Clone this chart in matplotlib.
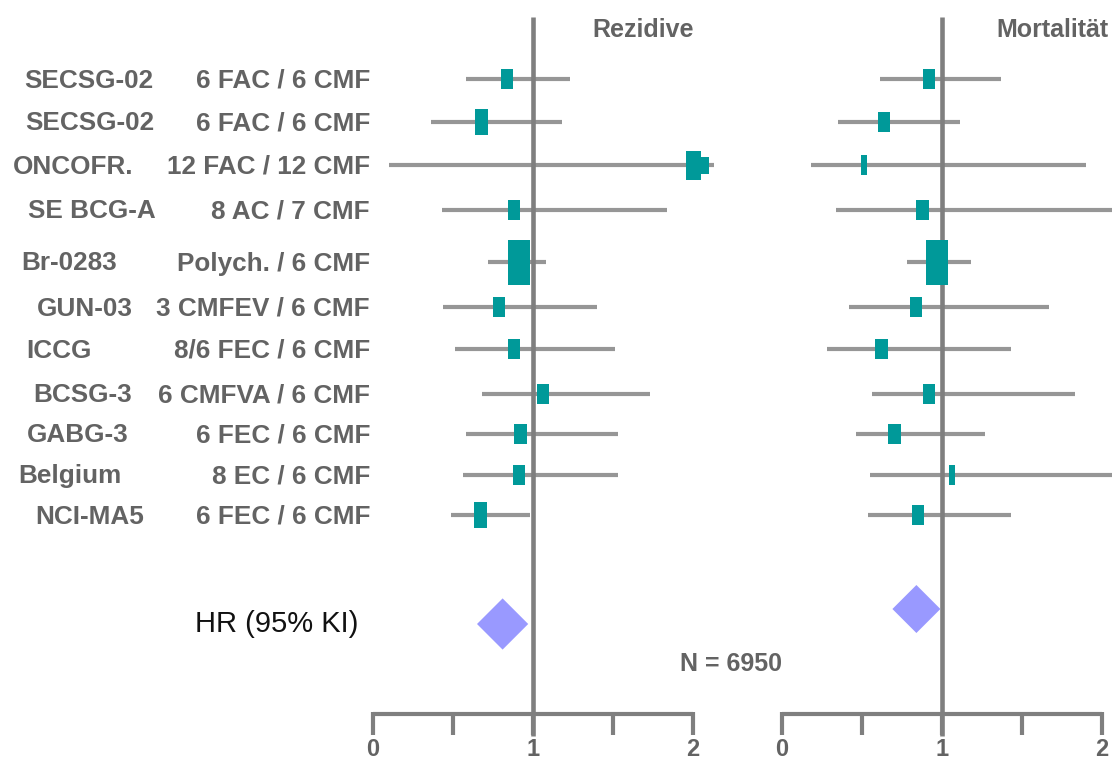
import matplotlib.pyplot as plt

plt.rcParams['font.family'] = ['Liberation Sans', 'DejaVu Sans']

# Studies and regimens
studies = ["SECSG-02", "SECSG-02", "ONCOFR.", "SE BCG-A", "Br-0283", "GUN-03",
           "ICCG", "BCSG-3", "GABG-3", "Belgium", "NCI-MA5"]
regimens = ["6 FAC / 6 CMF", "6 FAC / 6 CMF", "12 FAC / 12 CMF", "8 AC / 7 CMF",
            "Polych. / 6 CMF", "3 CMFEV / 6 CMF", "8/6 FEC / 6 CMF", "6 CMFVA / 6 CMF",
            "6 FEC / 6 CMF", "8 EC / 6 CMF", "6 FEC / 6 CMF"]

# Hazard ratios with 95% CI - recurrence
rez_hr = [0.84, 0.68, 2.00, 0.88, 0.91, 0.79, 0.88, 1.06, 0.92, 0.91, 0.67]
rez_lo = [0.58, 0.36, 0.10, 0.43, 0.72, 0.44, 0.51, 0.68, 0.58, 0.56, 0.49]
rez_hi = [1.23, 1.18, 2.13, 1.84, 1.08, 1.40, 1.51, 1.73, 1.53, 1.53, 0.98]
rez_extra_hr = 2.07  # second mark on the ONCOFR. row
rez_pooled = (0.81, 0.65, 0.97)

# Hazard ratios with 95% CI - mortality
mort_hr = [0.92, 0.64, 0.51, 0.88, 0.97, 0.84, 0.62, 0.92, 0.70, 1.06, 0.85]
mort_lo = [0.61, 0.35, 0.18, 0.34, 0.78, 0.42, 0.28, 0.56, 0.46, 0.55, 0.54]
mort_hi = [1.37, 1.11, 1.90, 2.30, 1.18, 1.67, 1.43, 1.83, 1.27, 2.30, 1.43]
mort_pooled = (0.84, 0.69, 0.99)

n_total = 6950
ticks = [0, 0.5, 1, 1.5, 2]
tick_labels = ["0", "", "1", "", "2"]

# layout (figure pixels)
W, H = 1112, 762
PX = 160.0                     # pixels per HR unit
row_y = [79, 122, 165, 210, 262, 307, 349, 394, 434, 475, 515]
name_x = [24, 25, 13, 28, 21, 37, 26, 33, 27, 18, 35]
rez_box_w = [12, 13, 15, 12, 22, 12, 12, 12, 13, 12, 13]
rez_box_h = [20, 26, 29, 20, 45, 20, 20, 20, 20, 20, 26]
mort_box_w = [12, 12, 6, 13, 22, 12, 13, 12, 13, 6, 12]
mort_box_h = [20, 20, 20, 20, 45, 20, 20, 20, 20, 20, 20]

TEXT = '#636363'
WHISK = '#969696'
LINE = '#7f7f7f'
BOX = '#009999'
DIAM = '#9999ff'

fig = plt.figure(figsize=(W / 100, H / 100), dpi=100)

# text layer in pixel coordinates
ax_t = fig.add_axes([0, 0, 1, 1])
ax_t.set_xlim(0, W)
ax_t.set_ylim(H, 0)
ax_t.axis('off')


def forest(one_px, hr, lo, hi, bw, bh, pooled, pooled_y, title, title_x):
    ax = fig.add_axes([0, 0, 1, 1])
    ax.patch.set_alpha(0)
    ax.set_xlim(1 - one_px / PX, 1 + (W - one_px) / PX)
    ax.set_ylim(H, 0)
    ax.axis('off')

    ax.vlines(1, 17, 736, color=LINE, lw=3.3, zorder=2)
    ax.hlines(row_y, lo, hi, color=WHISK, lw=3.0, zorder=1)
    for x, y, w, h in zip(hr, row_y, bw, bh):
        ax.bar(x, h, width=w / PX, bottom=y - h / 2, color=BOX, zorder=3)

    est, plo, phi = pooled
    half = (phi - plo) * PX / 2
    ax.fill([plo, est, phi, est],
            [pooled_y, pooled_y - half, pooled_y, pooled_y + half],
            color=DIAM, lw=0, zorder=3)

    # bracket-style x axis
    ax.hlines(714, ticks[0], ticks[-1], color=LINE, lw=3.0)
    ax.vlines(ticks, 712, 735, color=LINE, lw=3.0)
    for t, lab in zip(ticks, tick_labels):
        ax.text(t, 761.5, lab, ha='center', va='bottom', fontsize=17,
                fontweight='bold', color=TEXT)
    ax.text(title_x, 37, title, ha='center', va='baseline', fontsize=18,
            fontweight='bold', color=TEXT, transform=ax_t.transData)
    return ax


ax_l = forest(533, rez_hr, rez_lo, rez_hi, rez_box_w, rez_box_h,
              rez_pooled, 624, "Rezidive", 643)
ax_l.bar(rez_extra_hr, 17, width=9 / PX, bottom=row_y[2] - 8.5, color=BOX, zorder=3)

forest(942, mort_hr, mort_lo, mort_hi, mort_box_w, mort_box_h,
       mort_pooled, 609, "Mortalität", 1052)

# row labels
for nx, y, name, reg in zip(name_x, row_y, studies, regimens):
    ax_t.text(nx, y + 8.5, name, ha='left', va='baseline', fontsize=18.8,
              fontweight='bold', color=TEXT)
    ax_t.text(370, y + 8.5, reg, ha='right', va='baseline', fontsize=18.8,
              fontweight='bold', color=TEXT)

ax_t.text(195, 632, "HR (95% KI)", ha='left', va='baseline', fontsize=21,
          color='#111111')
ax_t.text(731, 671, f"N = {n_total}", ha='center', va='baseline', fontsize=18,
          fontweight='bold', color=TEXT)

fig.savefig('out.png', dpi=100)
